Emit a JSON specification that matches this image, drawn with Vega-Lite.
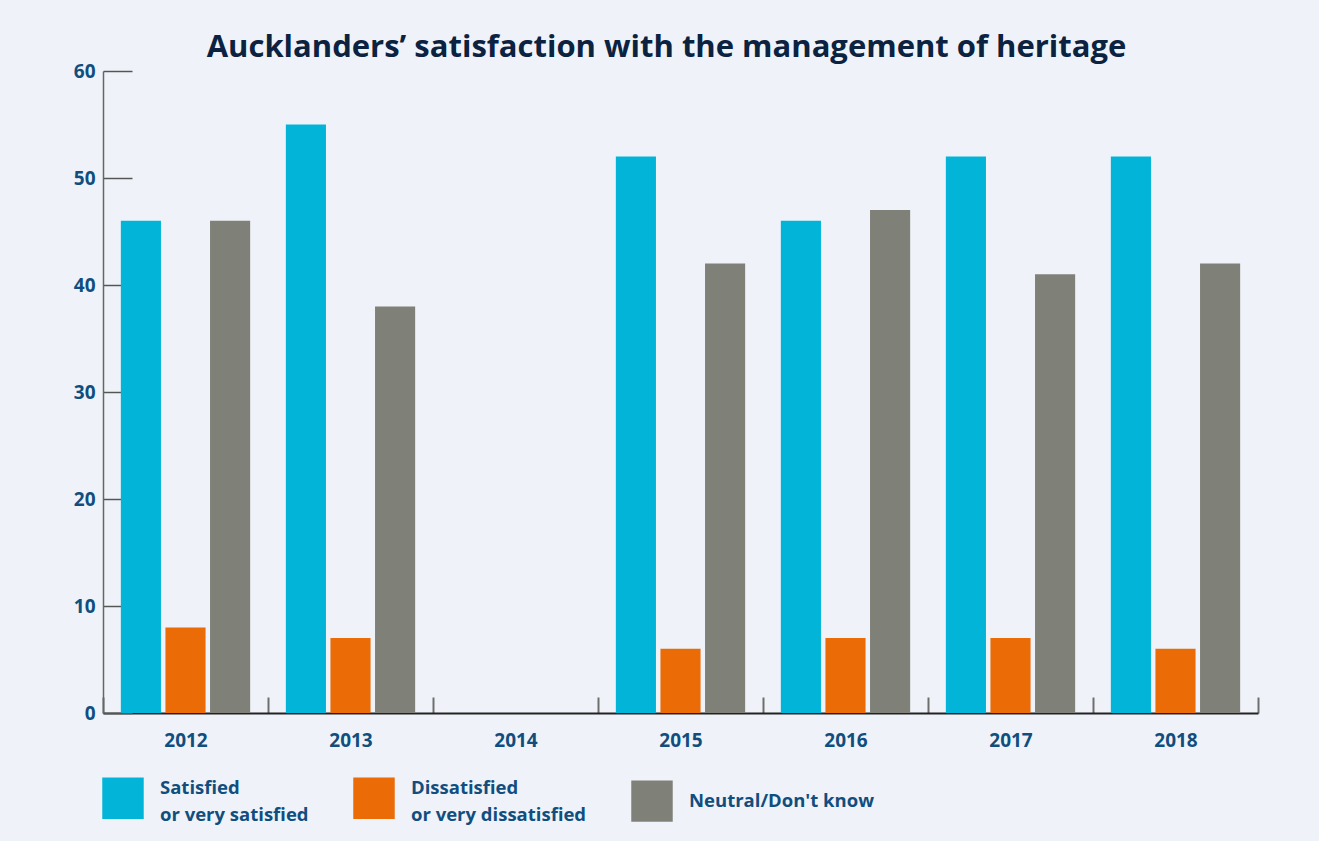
{
  "$schema": "https://vega.github.io/schema/vega-lite/v6.json",
  "width": 1155,
  "height": 642,
  "autosize": {"type": "none"},
  "padding": {"left": 103, "top": 71, "right": 61, "bottom": 128},
  "background": "#eff3f9",
  "title": {
    "text": "Aucklanders’ satisfaction with the management of heritage",
    "font": "Open Sans",
    "fontSize": 31,
    "fontWeight": "bold",
    "color": "#0b2341",
    "anchor": "middle",
    "offset": -2,
    "dx": -14
  },
  "data": {
    "values": [
      {"year": "2012", "category": "Satisfied or very satisfied", "value": 46},
      {"year": "2012", "category": "Dissatisfied or very dissatisfied", "value": 8},
      {"year": "2012", "category": "Neutral/Don't know", "value": 46},
      {"year": "2013", "category": "Satisfied or very satisfied", "value": 55},
      {"year": "2013", "category": "Dissatisfied or very dissatisfied", "value": 7},
      {"year": "2013", "category": "Neutral/Don't know", "value": 38},
      {"year": "2015", "category": "Satisfied or very satisfied", "value": 52},
      {"year": "2015", "category": "Dissatisfied or very dissatisfied", "value": 6},
      {"year": "2015", "category": "Neutral/Don't know", "value": 42},
      {"year": "2016", "category": "Satisfied or very satisfied", "value": 46},
      {"year": "2016", "category": "Dissatisfied or very dissatisfied", "value": 7},
      {"year": "2016", "category": "Neutral/Don't know", "value": 47},
      {"year": "2017", "category": "Satisfied or very satisfied", "value": 52},
      {"year": "2017", "category": "Dissatisfied or very dissatisfied", "value": 7},
      {"year": "2017", "category": "Neutral/Don't know", "value": 41},
      {"year": "2018", "category": "Satisfied or very satisfied", "value": 52},
      {"year": "2018", "category": "Dissatisfied or very dissatisfied", "value": 6},
      {"year": "2018", "category": "Neutral/Don't know", "value": 42}
    ]
  },
  "mark": {"type": "bar"},
  "encoding": {
    "x": {
      "field": "year",
      "type": "nominal",
      "scale": {"domain": ["2012", "2013", "2014", "2015", "2016", "2017", "2018"], "paddingInner": 0, "paddingOuter": 0},
      "axis": {
        "title": null,
        "labelAngle": 0,
        "labelFont": "Open Sans",
        "labelFontSize": 19,
        "labelFontWeight": "bold",
        "labelColor": "#114e7e",
        "labelPadding": 34,
        "tickBand": "extent",
        "tickSize": -16,
        "tickColor": "#6e6e6e",
        "tickWidth": 2,
        "domainColor": "#222222",
        "domainWidth": 2
      }
    },
    "xOffset": {
      "field": "category",
      "type": "nominal",
      "sort": ["Satisfied or very satisfied", "Dissatisfied or very dissatisfied", "Neutral/Don't know"],
      "scale": {"paddingInner": 0.1, "paddingOuter": 0.4}
    },
    "y": {
      "field": "value",
      "type": "quantitative",
      "scale": {"domain": [0, 60], "nice": false},
      "axis": {
        "title": null,
        "values": [0, 10, 20, 30, 40, 50, 60],
        "grid": false,
        "labelFont": "Open Sans",
        "labelFontSize": 19,
        "labelFontWeight": "bold",
        "labelColor": "#114e7e",
        "labelPadding": 37,
        "tickSize": -29,
        "tickColor": "#555555",
        "tickWidth": 1.5,
        "domainColor": "#666666",
        "domainWidth": 1.5
      }
    },
    "color": {
      "field": "category",
      "type": "nominal",
      "sort": ["Satisfied or very satisfied", "Dissatisfied or very dissatisfied", "Neutral/Don't know"],
      "scale": {
        "domain": ["Satisfied or very satisfied", "Dissatisfied or very dissatisfied", "Neutral/Don't know"],
        "range": ["#02b5d8", "#eb6b07", "#7f8078"]
      },
      "legend": {
        "title": null,
        "orient": "none",
        "direction": "horizontal",
        "legendX": -1,
        "legendY": 706,
        "symbolType": "square",
        "symbolSize": 1720,
        "symbolStrokeWidth": 0,
        "symbolOpacity": 1,
        "labelFont": "Open Sans",
        "labelFontSize": 18.5,
        "labelFontWeight": "bold",
        "labelColor": "#114e7e",
        "labelOffset": 16,
        "labelLimit": 400,
        "columnPadding": 44,
        "labelExpr": "datum.label == 'Satisfied or very satisfied' ? ['Satisfied', 'or very satisfied'] : datum.label == 'Dissatisfied or very dissatisfied' ? ['Dissatisfied', 'or very dissatisfied'] : datum.label",
        "encode": {
          "labels": {
            "update": {
              "dy": {"signal": "datum.value == 'Neutral/Don\\'t know' ? 0 : -10"}
            }
          }
        }
      }
    }
  },
  "config": {
    "view": {"stroke": null},
    "style": {"guide-label": {"lineHeight": 27}}
  }
}
